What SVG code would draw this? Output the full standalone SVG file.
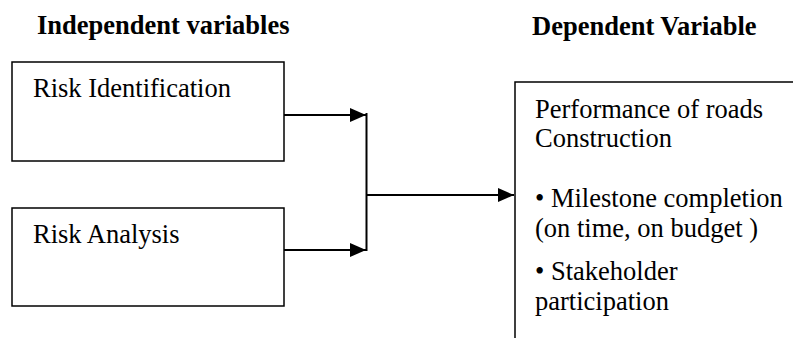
<svg xmlns="http://www.w3.org/2000/svg" width="793" height="338" viewBox="0 0 793 338">
<style>
.box{fill:#fff;stroke:#000;stroke-width:1.5}
text{font-family:'Liberation Serif','Times New Roman',Tinos,'DejaVu Serif',serif;font-size:26.5px;fill:#000}
.h{font-weight:bold}
.c{fill:none;stroke:#000;stroke-width:2}
</style>
<defs>
<marker id="ah" markerWidth="16" markerHeight="14" refX="16" refY="7" orient="auto" markerUnits="userSpaceOnUse">
<path d="M0,0 L16,7 L0,14 Z" fill="#000"/>
</marker>
</defs>
<rect width="793" height="338" fill="#fff"/>
<text class="h" x="37" y="34" font-family="Liberation Serif, serif">Independent variables</text>
<text class="h" x="532" y="35" font-family="Liberation Serif, serif">Dependent Variable</text>
<g id="risk-identification">
<rect class="box" x="12" y="62" width="272" height="99"/>
<text x="33" y="97" font-family="Liberation Serif, serif">Risk Identification</text>
</g>
<g id="risk-analysis">
<rect class="box" x="12" y="208" width="272" height="98"/>
<text x="33" y="243" font-family="Liberation Serif, serif">Risk Analysis</text>
</g>
<g id="performance">
<path class="box" d="M800,82 H515 V345" fill="none"/>
<text x="535" y="118" font-family="Liberation Serif, serif">Performance of roads</text>
<text x="535" y="147" font-family="Liberation Serif, serif">Construction</text>
<text x="535" y="207" font-family="Liberation Serif, serif">• Milestone completion</text>
<text x="535" y="237" font-family="Liberation Serif, serif">(on time, on budget )</text>
<text x="535" y="280" font-family="Liberation Serif, serif">• Stakeholder</text>
<text x="535" y="310" font-family="Liberation Serif, serif">participation</text>
</g>
<g id="connectors">
<line class="c" x1="284" y1="115" x2="366" y2="115" marker-end="url(#ah)"/>
<line class="c" x1="284" y1="250" x2="366" y2="250" marker-end="url(#ah)"/>
<line class="c" x1="366.5" y1="113" x2="366.5" y2="251"/>
<line class="c" x1="366" y1="195" x2="514" y2="195" marker-end="url(#ah)"/>
</g>
</svg>
